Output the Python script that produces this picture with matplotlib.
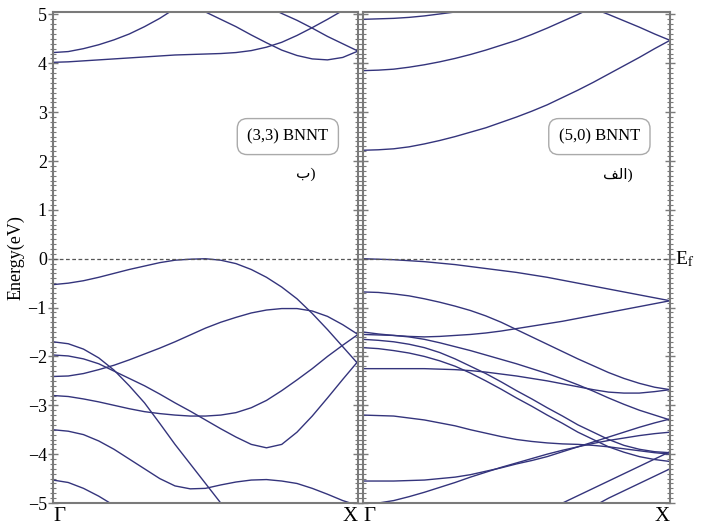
import matplotlib.pyplot as plt
import numpy as np

plt.rcParams['font.family'] = ['Liberation Serif', 'DejaVu Sans']
plt.rcParams['mathtext.fontset'] = 'stix'

# k path Gamma -> X, same grid for every band
k = np.linspace(0.0, 1.0, 21)

# (3,3) BNNT bands (eV)
left_bands = [
    [4.22, 4.24, 4.30, 4.38, 4.48, 4.60, 4.75, 4.92, 5.12, 5.32, 5.55, 5.8, 6.0, 6.2, 6.4, 6.6, 6.8, 7.0, 7.2, 7.4, 7.6],
    [4.02, 4.03, 4.05, 4.07, 4.09, 4.11, 4.13, 4.15, 4.17, 4.18, 4.19, 4.20, 4.22, 4.26, 4.33, 4.43, 4.57, 4.73, 4.90, 5.08, 5.25],
    [6.5, 6.35, 6.2, 6.05, 5.9, 5.75, 5.6, 5.45, 5.32, 5.18, 5.05, 4.90, 4.75, 4.58, 4.42, 4.27, 4.16, 4.09, 4.07, 4.12, 4.25],
    [7.3, 7.15, 7.0, 6.85, 6.7, 6.55, 6.4, 6.25, 6.1, 5.95, 5.8, 5.62, 5.47, 5.32, 5.17, 5.02, 4.88, 4.72, 4.55, 4.40, 4.25],
    [-0.53, -0.50, -0.45, -0.38, -0.30, -0.22, -0.15, -0.08, -0.03, -0.01, 0.0, -0.03, -0.10, -0.22, -0.38, -0.58, -0.82, -1.12, -1.45, -1.80, -2.15],
    [-2.41, -2.40, -2.35, -2.27, -2.18, -2.07, -1.95, -1.83, -1.70, -1.56, -1.42, -1.30, -1.20, -1.11, -1.05, -1.02, -1.02, -1.07, -1.18, -1.35, -1.55],
    [-1.70, -1.74, -1.85, -2.03, -2.28, -2.60, -2.95, -3.37, -3.80, -4.20, -4.60, -5.00, -5.40, -5.8, -6.2, -6.6, -7.0, -7.4, -7.8, -8.2, -8.6],
    [-1.97, -1.99, -2.05, -2.15, -2.30, -2.45, -2.60, -2.77, -2.95, -3.12, -3.30, -3.48, -3.65, -3.80, -3.87, -3.80, -3.55, -3.22, -2.85, -2.47, -2.10],
    [-2.80, -2.82, -2.87, -2.93, -3.00, -3.07, -3.13, -3.17, -3.20, -3.22, -3.22, -3.20, -3.15, -3.05, -2.90, -2.70, -2.48, -2.25, -2.00, -1.77, -1.55],
    [-3.50, -3.53, -3.60, -3.73, -3.90, -4.10, -4.30, -4.50, -4.65, -4.71, -4.70, -4.63, -4.57, -4.53, -4.52, -4.55, -4.60, -4.70, -4.82, -4.95, -5.05],
    [-4.53, -4.58, -4.70, -4.86, -5.05, -5.3, -5.6, -5.9, -6.2, -6.5, -6.8, -7.1, -7.4, -7.7, -8.0, -8.3, -8.6, -8.9, -9.2, -9.5, -9.8],
]

# (5,0) BNNT bands (eV)
right_bands = [
    [2.22, 2.23, 2.25, 2.29, 2.35, 2.42, 2.50, 2.59, 2.68, 2.79, 2.90, 3.02, 3.15, 3.30, 3.45, 3.61, 3.78, 3.95, 4.12, 4.30, 4.47],
    [3.85, 3.86, 3.88, 3.92, 3.97, 4.03, 4.10, 4.18, 4.27, 4.37, 4.47, 4.59, 4.72, 4.86, 5.00, 5.15, 5.30, 5.45, 5.6, 5.75, 5.9],
    [4.90, 4.91, 4.92, 4.94, 4.97, 5.01, 5.05, 5.10, 5.15, 5.2, 5.3, 5.4, 5.5, 5.6, 5.7, 5.8, 5.9, 6.0, 6.1, 6.2, 6.3],
    [6.8, 6.7, 6.6, 6.5, 6.4, 6.3, 6.2, 6.1, 6.0, 5.87, 5.75, 5.62, 5.50, 5.37, 5.25, 5.12, 5.00, 4.87, 4.74, 4.60, 4.47],
    [0.0, -0.01, -0.02, -0.04, -0.06, -0.09, -0.12, -0.16, -0.20, -0.24, -0.28, -0.33, -0.38, -0.44, -0.50, -0.56, -0.62, -0.68, -0.74, -0.80, -0.86],
    [-0.68, -0.69, -0.72, -0.76, -0.82, -0.89, -0.97, -1.06, -1.17, -1.30, -1.45, -1.60, -1.75, -1.90, -2.05, -2.19, -2.33, -2.45, -2.55, -2.63, -2.68],
    [-1.50, -1.54, -1.57, -1.59, -1.60, -1.59, -1.57, -1.55, -1.52, -1.48, -1.43, -1.38, -1.33, -1.28, -1.22, -1.16, -1.10, -1.04, -0.98, -0.92, -0.86],
    [-1.55, -1.56, -1.57, -1.60, -1.65, -1.72, -1.80, -1.88, -1.97, -2.06, -2.15, -2.25, -2.35, -2.46, -2.58, -2.71, -2.85, -2.98, -3.10, -3.20, -3.30],
    [-1.65, -1.67, -1.70, -1.75, -1.82, -1.92, -2.05, -2.20, -2.35, -2.52, -2.70, -2.87, -3.05, -3.22, -3.40, -3.55, -3.70, -3.82, -3.90, -3.95, -3.97],
    [-1.82, -1.84, -1.88, -1.93, -2.00, -2.09, -2.20, -2.34, -2.50, -2.67, -2.85, -3.02, -3.20, -3.37, -3.55, -3.70, -3.85, -3.96, -4.05, -4.11, -4.15],
    [-2.25, -2.25, -2.25, -2.25, -2.25, -2.26, -2.27, -2.29, -2.32, -2.36, -2.40, -2.45, -2.50, -2.56, -2.62, -2.68, -2.73, -2.75, -2.75, -2.72, -2.68],
    [-3.20, -3.21, -3.22, -3.26, -3.30, -3.36, -3.42, -3.50, -3.57, -3.64, -3.70, -3.74, -3.77, -3.79, -3.80, -3.82, -3.85, -3.89, -3.93, -3.97, -4.00],
    [-4.55, -4.55, -4.55, -4.54, -4.53, -4.50, -4.47, -4.42, -4.35, -4.28, -4.20, -4.13, -4.05, -3.95, -3.85, -3.75, -3.65, -3.55, -3.45, -3.36, -3.28],
    [-5.05, -5.00, -4.95, -4.87, -4.78, -4.68, -4.58, -4.47, -4.37, -4.27, -4.18, -4.09, -4.00, -3.92, -3.85, -3.78, -3.72, -3.67, -3.62, -3.58, -3.55],
    [-8.0, -7.7, -7.4, -7.1, -6.8, -6.5, -6.25, -6.0, -5.75, -5.5, -5.3, -5.15, -5.10, -5.00, -4.85, -4.70, -4.55, -4.40, -4.25, -4.10, -3.95],
    [-8.5, -8.3, -8.1, -7.9, -7.7, -7.5, -7.2, -6.9, -6.6, -6.3, -6.0, -5.7, -5.5, -5.3, -5.15, -5.07, -4.90, -4.75, -4.60, -4.45, -4.30],
]

kpoint_labels = ['\u0393', 'X']
names = ['(3,3) BNNT', '(5,0) BNNT']
tags = ['\u0628)', '\ufed2\ufedf\u0627)']

line_col = '#34347c'
spine_col = '#7a7a7a'

fig = plt.figure(figsize=(7.04, 5.31), dpi=100)
ax1 = fig.add_axes([0.0753, 0.0527, 0.4332, 0.9247])
ax2 = fig.add_axes([0.5156, 0.0527, 0.4361, 0.9247])

for ax, bands, name, tag in [(ax1, left_bands, names[0], tags[0]),
                             (ax2, right_bands, names[1], tags[1])]:
    for b in bands:
        ax.plot(k, b, color=line_col, lw=1.0)
    ax.axhline(0, color='#555555', lw=0.9, ls=(0, (3, 2)))
    ax.set_xlim(0, 1)
    ax.set_ylim(-5, 5.05)
    ax.set_xticks([0, 1])
    ax.set_xticklabels(kpoint_labels, fontsize=15)
    lbls = ax.get_xticklabels()
    lbls[0].set_ha('left')
    lbls[1].set_ha('right')
    ax.tick_params(axis='x', length=0, pad=3)
    ax.set_yticks(np.arange(-5, 6, 1))
    ax.set_yticks(np.arange(-5, 5.01, 0.1), minor=True)
    ax.tick_params(axis='y', which='major', direction='inout', length=7,
                   width=1.0, color=spine_col, labelsize=13, pad=1,
                   left=True, right=True)
    ax.tick_params(axis='y', which='minor', direction='inout', length=4,
                   width=0.8, color=spine_col, left=True, right=True)
    for s in ax.spines.values():
        s.set_color(spine_col)
        s.set_linewidth(1.5)
    ax.text(0.77, 2.5, name, fontsize=12, ha='center', va='center',
            bbox=dict(boxstyle='round,pad=0.6', fc='white', ec='#aaaaaa', lw=1.0))
    ax.text(0.83, 1.72, tag, fontsize=11, ha='center', va='center')

ax2.tick_params(axis='y', labelleft=False)
ax1.set_ylabel('Energy(eV)', fontsize=13, labelpad=2)
ax2.text(1.015, 0.0, 'E$_{\\mathrm{f}}$', fontsize=14, ha='left', va='center',
         transform=ax2.get_yaxis_transform())

fig.savefig('out.png', dpi=100)
